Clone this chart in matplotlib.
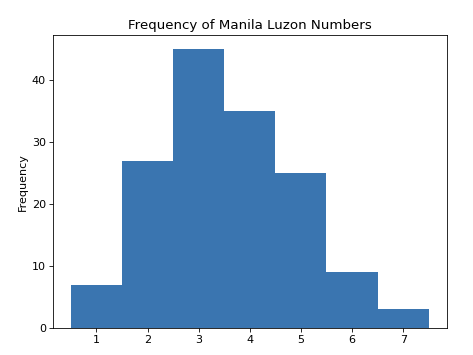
import numpy as np
import matplotlib.pyplot as plt

# counts per number
numbers = [1, 2, 3, 4, 5, 6, 7]
counts = [7, 27, 45, 35, 25, 9, 3]

plt.rcParams["font.size"] = 10.8

fig, ax = plt.subplots(figsize=(6.4, 4.8), dpi=74)
ax.bar(numbers, counts, width=1.0, color="#3a75b0")
ax.set_xticks(numbers)
ax.set_ylabel("Frequency")
ax.set_title("Frequency of Manila Luzon Numbers")

fig.subplots_adjust(left=0.112, right=0.943, bottom=0.076, top=0.901)
fig.savefig("out.png", dpi=74)
